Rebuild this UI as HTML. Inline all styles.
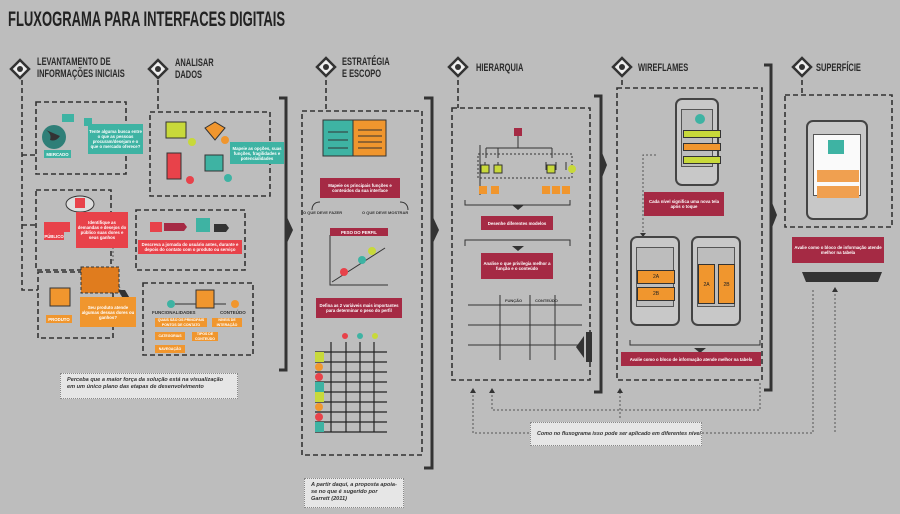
<!DOCTYPE html>
<html><head><meta charset="utf-8"><style>
*{margin:0;padding:0;box-sizing:border-box}
body{width:900px;height:514px;background:#bdbdbd;position:relative;overflow:hidden;font-family:"Liberation Sans",sans-serif;color:#222}
.a{position:absolute}
.t{font-weight:bold;font-size:11px;line-height:12px;color:#2a2a2a;transform:scaleX(0.68);transform-origin:0 0;white-space:nowrap}
.lbl{position:absolute;color:#fff;font-weight:bold;font-size:4.3px;line-height:5px;text-align:center;display:flex;align-items:center;justify-content:center;padding:1px;overflow:hidden}
.mar{background:#a52a44}
.tea{background:#3eb3a3}
.red{background:#e8424a}
.ora{background:#f0962e}
.note{position:absolute;background:#e6e6e6;border:1px dotted #888;font-style:italic;font-weight:bold;font-size:5.6px;line-height:7px;color:#333;padding:3px 6px;font-family:"Liberation Sans",sans-serif;overflow:hidden}
.ph{position:absolute;border:2px solid #444;border-radius:7px;background:#c8c8c8}
.scr{position:absolute;background:#bdbdbd;border:1px solid #555}
</style></head><body>
<div class="a" style="left:8px;top:8px;font-size:21px;font-weight:bold;color:#222;transform:scaleX(0.62);transform-origin:0 0;white-space:nowrap">FLUXOGRAMA PARA INTERFACES DIGITAIS</div>

<svg class="a" style="left:0;top:0" width="900" height="514">
<g fill="none" stroke="#333" stroke-width="1.6" stroke-dasharray="5,3">
<path d="M22 80V290H38"/><path d="M22 155H36"/><path d="M22 225H36"/>
<rect x="36" y="102" width="90" height="72"/>
<path d="M158 80V110"/>
<rect x="150" y="112" width="120" height="84"/>
<rect x="36" y="190" width="75" height="80"/>
<rect x="136" y="210" width="109" height="60"/>
<rect x="38" y="272" width="75" height="66"/>
<rect x="143" y="283" width="110" height="72"/>
<path d="M326 80V110"/>
<rect x="302" y="111" width="120" height="344"/>
<path d="M458 80V108"/>
<rect x="452" y="108" width="138" height="272"/>
<path d="M622 80V88"/>
<rect x="617" y="88" width="145" height="292"/>
<path d="M802 80V95"/>
<rect x="785" y="95" width="107" height="132"/>
</g>
<g fill="none" stroke="#555" stroke-width="1" stroke-dasharray="2,2">
<path d="M473 395V433H530"/><path d="M492 395V410H760V383"/><path d="M620 392V420"/>
<path d="M702 433H813V290"/><path d="M835 290V433"/>
<path d="M105 215H113V262"/><path d="M115 285c6,0 6,6 6,10"/>
<path d="M656 155H643V235"/>
</g>
<g fill="#333"><path d="M470 393l3-5 3 5z"/><path d="M489 393l3-5 3 5z"/><path d="M617 393l3-5 3 5z"/><path d="M832 292l3-5 3 5z"/><path d="M640 233l3 4 3-4z"/></g>
<g fill="none" stroke="#333" stroke-width="3">
<path d="M279 98H286V370H279"/><path d="M424 98H432V468H424"/><path d="M594 96H601V392H594"/><path d="M764 65H771V390H764"/>
</g>
<g fill="#333">
<path d="M286 215l7 15-7 15z"/><path d="M432 215l7 15-7 15z"/><path d="M601 150l6 15-6 15z"/><path d="M771 200l6 15-6 15z"/>
<path d="M126 126h8l8 14-8 14h-8l8-14z"/><path d="M111 222h7l7 12-7 12h-7l7-12z"/><path d="M118 290h7l7 12-7 12h-7l7-12z"/>
<path d="M584 336l-8 11 8 11z"/><path d="M586 332h6v30h-6z"/>
<path d="M802 272h80l-4 10h-72z"/>
</g>
<g fill="#eee" stroke="#333" stroke-width="2.5">
<path d="M20 60l9 9-9 9-9-9z"/><path d="M158 60l9 9-9 9-9-9z"/><path d="M326 58l9 9-9 9-9-9z"/><path d="M458 58l9 9-9 9-9-9z"/><path d="M622 58l9 9-9 9-9-9z"/><path d="M802 58l9 9-9 9-9-9z"/>
</g>
<g fill="#333"><circle cx="20" cy="69" r="3"/><circle cx="158" cy="69" r="3"/><circle cx="326" cy="67" r="3"/><circle cx="458" cy="67" r="3"/><circle cx="622" cy="67" r="3"/><circle cx="802" cy="67" r="3"/></g>
<circle cx="54" cy="137" r="12" fill="#2f7f78"/><path d="M46 130q6 4 4 10q6 2 10-4" fill="#333"/>
<path d="M62 114h12v8h-12zM84 118h8v8h-8z" fill="#3eb3a3"/>
<rect x="166" y="122" width="20" height="16" fill="#c8d93a" stroke="#333"/><circle cx="192" cy="142" r="4" fill="#c8d93a"/>
<path d="M205 128l10-6 10 6-10 12z" fill="#f0962e" stroke="#333"/><circle cx="225" cy="140" r="4" fill="#f0962e"/>
<rect x="167" y="153" width="14" height="26" fill="#e8424a" stroke="#333"/><circle cx="190" cy="180" r="4" fill="#e8424a"/>
<rect x="205" y="155" width="18" height="16" fill="#3eb3a3" stroke="#333"/><circle cx="228" cy="178" r="4" fill="#3eb3a3"/>
<ellipse cx="80" cy="204" rx="14" ry="8" fill="#ddd" stroke="#333"/><rect x="75" y="198" width="10" height="10" fill="#e8424a"/>
<path d="M44 222h26v10h-26z" fill="#e8424a"/>
<path d="M150 222h12v10h-12z" fill="#e8424a"/><path d="M164 223h20l3 4-3 4h-20z" fill="#a52a44"/>
<rect x="196" y="218" width="14" height="14" fill="#3eb3a3"/><path d="M214 224h12l3 4-3 4h-12z" fill="#333"/>
<rect x="50" y="288" width="20" height="18" fill="#f0962e" stroke="#333"/>
<rect x="81" y="267" width="38" height="26" fill="#e07c1e" stroke="#333" stroke-dasharray="3,2"/>
<circle cx="171" cy="304" r="4" fill="#3eb3a3"/><circle cx="235" cy="304" r="4" fill="#f0962e"/><path d="M175 304H226" stroke="#333"/>
<rect x="196" y="290" width="18" height="18" fill="#f0962e" stroke="#333"/>
<rect x="323" y="120" width="30" height="36" fill="#3eb3a3" stroke="#333"/><rect x="353" y="120" width="33" height="36" fill="#f0962e" stroke="#333"/>
<g stroke="#333" fill="none"><path d="M358 130h24M358 136h24M358 142h24M358 148h24M328 132h20M328 140h20M328 148h20"/>
<path d="M330 235V285H388"/><path d="M332 282L385 248"/>
<path d="M312 210c0-6 4-8 8-8M408 210c0-6-4-8-8-8"/></g>
<circle cx="344" cy="272" r="4" fill="#e8424a"/><circle cx="362" cy="260" r="4" fill="#3eb3a3"/><circle cx="372" cy="251" r="4" fill="#c8d93a"/>
<circle cx="345" cy="336" r="3" fill="#e8424a"/><circle cx="360" cy="336" r="3" fill="#3eb3a3"/><circle cx="375" cy="336" r="3" fill="#c8d93a"/>
<g stroke="#222" stroke-width="1.2"><path d="M315 352H387M315 362H387M315 372H387M315 382H387M315 392H387M315 402H387M315 412H387M315 422H387M315 432H387M331 342V432M346 342V432M360 342V432M374 342V432"/></g>
<g><rect x="315" y="352" width="9" height="10" fill="#c8d93a"/><circle cx="319" cy="367" r="4" fill="#f0962e"/><circle cx="319" cy="377" r="4" fill="#e8424a"/><rect x="315" y="382" width="9" height="10" fill="#3eb3a3"/><rect x="315" y="392" width="9" height="10" fill="#c8d93a"/><circle cx="319" cy="407" r="4" fill="#f0962e"/><circle cx="319" cy="417" r="4" fill="#e8424a"/><rect x="315" y="422" width="9" height="10" fill="#3eb3a3"/></g>
<rect x="514" y="128" width="8" height="8" fill="#a52a44"/>
<g stroke="#333" fill="none"><path d="M518 136V148M486 148H552M486 148V158M498 148V158M552 148V158M485 162v8M498 162v8M546 162v8M556 162v8M566 162v8M480 145V195"/>
<rect x="478" y="154" width="94" height="24" stroke-dasharray="2,2"/>
<path d="M465 200V205H570V200M465 246V240H570V246"/>
<path d="M468 305H582M468 325H582M468 345H582M500 295V360M530 295V360M555 295V360"/></g>
<rect x="481" y="165" width="8" height="8" fill="#c8d93a" stroke="#333"/><rect x="494" y="165" width="8" height="8" fill="#c8d93a" stroke="#333"/><rect x="547" y="165" width="8" height="8" fill="#c8d93a" stroke="#333"/>
<g fill="#f0962e"><rect x="479" y="186" width="8" height="8"/><rect x="491" y="186" width="8" height="8"/><rect x="542" y="186" width="8" height="8"/><rect x="552" y="186" width="8" height="8"/><rect x="562" y="186" width="8" height="8"/></g>
<circle cx="572" cy="169" r="4" fill="#c8d93a"/>
<path d="M512 205l6 5 6-5zM512 246l6 5 6-5zM694 348l6 5 6-5z" fill="#333"/>
<path d="M630 340V345H760V340" stroke="#333" fill="none"/>
</svg>

<div class="t a" style="left:37px;top:56px">LEVANTAMENTO DE<br>INFORMAÇÕES INICIAIS</div>
<div class="t a" style="left:175px;top:57px">ANALISAR<br>DADOS</div>
<div class="t a" style="left:342px;top:56px">ESTRATÉGIA<br>E ESCOPO</div>
<div class="t a" style="left:476px;top:62px">HIERARQUIA</div>
<div class="t a" style="left:638px;top:62px">WIREFLAMES</div>
<div class="t a" style="left:816px;top:62px">SUPERFÍCIE</div>

<div class="lbl tea" style="left:44px;top:150px;width:27px;height:8px">MERCADO</div>
<div class="lbl tea" style="left:88px;top:124px;width:55px;height:30px">Tente alguma busca entre o que as pessoas procuram/desejam e o que o mercado oferece?</div>
<div class="lbl tea" style="left:230px;top:142px;width:54px;height:22px">Mapeie as opções, suas funções, fragilidades e potencialidades</div>
<div class="lbl red" style="left:44px;top:232px;width:20px;height:8px">PÚBLICO</div>
<div class="lbl red" style="left:76px;top:212px;width:52px;height:36px">Identifique as demandas e desejos do público suas dores e seus ganhos</div>
<div class="lbl red" style="left:138px;top:240px;width:104px;height:14px">Descreva a jornada do usuário antes, durante e depois do contato com o produto ou serviço</div>
<div class="lbl ora" style="left:46px;top:315px;width:26px;height:8px">PRODUTO</div>
<div class="lbl ora" style="left:80px;top:297px;width:56px;height:30px">Seu produto atende algumas dessas dores ou ganhos?</div>
<div class="a" style="left:152px;top:310px;font-size:4.5px;font-weight:bold;color:#333">FUNCIONALIDADES</div>
<div class="a" style="left:220px;top:310px;font-size:4.5px;font-weight:bold;color:#333">CONTEÚDO</div>
<div class="lbl ora" style="left:155px;top:318px;width:52px;height:9px;font-size:3.5px">QUAIS SÃO OS PRINCIPAIS PONTOS DE CONTATO</div>
<div class="lbl ora" style="left:212px;top:318px;width:30px;height:9px;font-size:3.5px">NÍVEIS DE INTERAÇÃO</div>
<div class="lbl ora" style="left:155px;top:332px;width:30px;height:8px;font-size:3.5px">CATEGORIAS</div>
<div class="lbl ora" style="left:192px;top:332px;width:26px;height:9px;font-size:3.5px">TIPOS DE CONTEÚDO</div>
<div class="lbl ora" style="left:155px;top:345px;width:30px;height:8px;font-size:3.5px">NAVEGAÇÃO</div>

<div class="lbl mar" style="left:320px;top:178px;width:80px;height:20px">Mapeie os principais funções e conteúdos da sua interface</div>
<div class="a" style="left:303px;top:210px;font-size:4px;font-weight:bold;color:#333">O QUE DEVE FAZER</div>
<div class="a" style="left:362px;top:210px;font-size:4px;font-weight:bold;color:#333">O QUE DEVE MOSTRAR</div>
<div class="lbl mar" style="left:330px;top:228px;width:58px;height:8px">PESO DO PERFIL</div>
<div class="lbl mar" style="left:316px;top:298px;width:86px;height:20px">Defina as 2 variáveis mais importantes para determinar o peso do perfil</div>

<div class="lbl mar" style="left:481px;top:216px;width:72px;height:14px">Desenhe diferentes modelos</div>
<div class="lbl mar" style="left:481px;top:253px;width:72px;height:26px">Analise o que privilegia melhor a função e o conteúdo</div>
<div class="a" style="left:505px;top:298px;font-size:4px;font-weight:bold;color:#333">FUNÇÃO</div>
<div class="a" style="left:535px;top:298px;font-size:4px;font-weight:bold;color:#333">CONTEÚDO</div>

<div class="ph" style="left:675px;top:98px;width:44px;height:88px"><div class="scr" style="left:4px;top:9px;width:32px;height:58px"></div></div>
<div class="a" style="left:695px;top:114px;width:10px;height:10px;border-radius:50%;background:#3eb3a3"></div>
<div class="a" style="left:683px;top:130px;width:38px;height:8px;background:#c8d93a;border:1px solid #333"></div>
<div class="a" style="left:683px;top:143px;width:38px;height:8px;background:#f0962e;border:1px solid #333"></div>
<div class="a" style="left:683px;top:156px;width:38px;height:8px;background:#c8d93a;border:1px solid #333"></div>
<div class="lbl mar" style="left:644px;top:192px;width:80px;height:24px">Cada nível significa uma nova tela após o toque</div>
<div class="ph" style="left:630px;top:236px;width:50px;height:90px"><div class="scr" style="left:4px;top:9px;width:38px;height:60px"></div></div>
<div class="a" style="left:637px;top:270px;width:38px;height:14px;background:#f0962e;border:1px solid #333;font-size:5px;text-align:center;line-height:12px">2A</div>
<div class="a" style="left:637px;top:287px;width:38px;height:14px;background:#f0962e;border:1px solid #333;font-size:5px;text-align:center;line-height:12px">2B</div>
<div class="ph" style="left:691px;top:236px;width:50px;height:90px"><div class="scr" style="left:4px;top:9px;width:38px;height:60px"></div></div>
<div class="a" style="left:698px;top:264px;width:17px;height:40px;background:#f0962e;border:1px solid #333;font-size:5px;text-align:center;line-height:40px">2A</div>
<div class="a" style="left:718px;top:264px;width:17px;height:40px;background:#f0962e;border:1px solid #333;font-size:5px;text-align:center;line-height:40px">2B</div>
<div class="lbl mar" style="left:621px;top:352px;width:140px;height:14px">Avalie como o bloco de informação atende melhor na tabela</div>

<div class="ph" style="left:806px;top:120px;width:62px;height:100px"><div class="a" style="left:5px;top:12px;width:48px;height:62px;background:#fafafa;border:1px solid #555"></div></div>
<div class="a" style="left:828px;top:140px;width:16px;height:14px;background:#3eb3a3"></div>
<div class="a" style="left:817px;top:170px;width:42px;height:12px;background:#f0a050"></div>
<div class="a" style="left:817px;top:186px;width:42px;height:12px;background:#f0a050"></div>
<div class="lbl mar" style="left:792px;top:237px;width:92px;height:26px">Avalie como o bloco de informação atende melhor na tabela</div>

<div class="note" style="left:60px;top:373px;width:178px;height:26px">Perceba que a maior força da solução está na visualização em um único plano das etapas de desenvolvimento</div>
<div class="note" style="left:304px;top:478px;width:100px;height:30px">A partir daqui, a proposta apoia-se no que é sugerido por Garrett (2011)</div>
<div class="note" style="left:530px;top:422px;width:172px;height:24px;line-height:16px;white-space:nowrap;font-size:5.4px">Como no fluxograma isso pode ser aplicado em diferentes níveis</div>
</body></html>
